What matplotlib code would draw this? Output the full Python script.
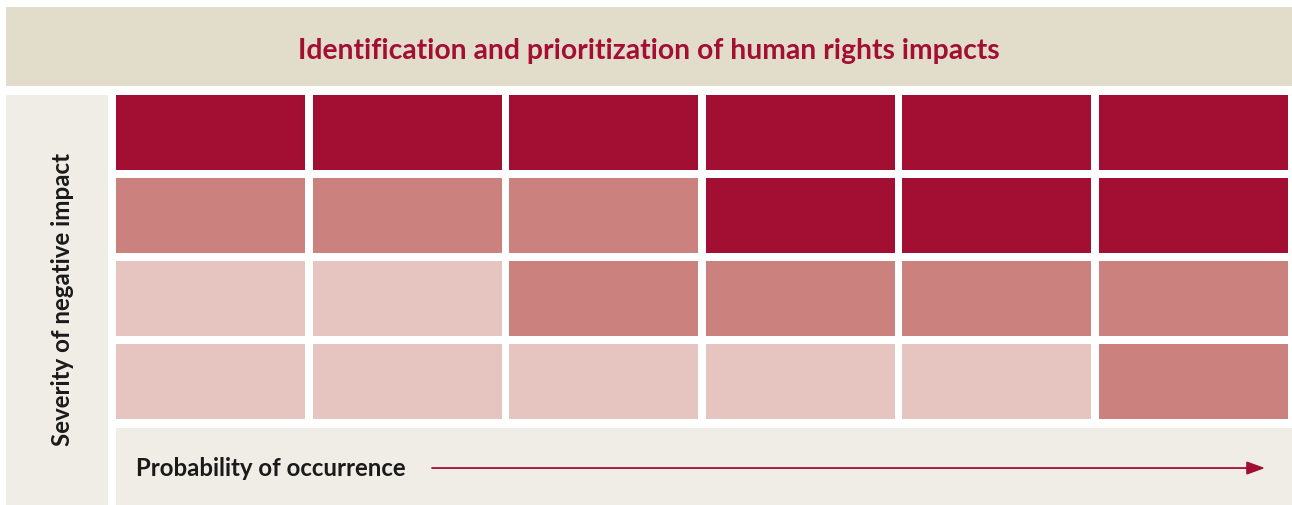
import matplotlib.pyplot as plt
import numpy as np

# severity rows (top = most severe) x probability columns, level 1..3
levels = [
    [3, 3, 3, 3, 3, 3],
    [2, 2, 2, 3, 3, 3],
    [1, 1, 2, 2, 2, 2],
    [1, 1, 1, 1, 1, 2],
]
level_colors = {1: '#e6c5c0', 2: '#cb827f', 3: '#a30e33'}
title = 'Identification and prioritization of human rights impacts'
ylabel = 'Severity of negative impact'
xlabel = 'Probability of occurrence'

W, H = 1292, 505
plt.rcParams['font.family'] = ['Lato', 'DejaVu Sans']
fig = plt.figure(figsize=(W / 100, H / 100), dpi=100)


def px_axes(x0, y0, x1, y1):
    ax = fig.add_axes([x0 / W, 1 - y1 / H, (x1 - x0) / W, (y1 - y0) / H])
    ax.set_axis_off()
    return ax


def fit(txt, target, vertical=False):
    # scale font size so the text spans the target length in pixels
    r = fig.canvas.get_renderer()
    bb = txt.get_window_extent(renderer=r)
    size = bb.height if vertical else bb.width
    txt.set_fontsize(txt.get_fontsize() * target / size)


# title band
ax_t = px_axes(6, 7, 1292, 86)
ax_t.add_patch(plt.Rectangle((0, 0), 1, 1, transform=ax_t.transAxes, color='#e2dccb'))
t_title = ax_t.text(0.5, 0.44, title, ha='center', va='center', color='#a30e33',
                    fontsize=16, fontweight='bold', transform=ax_t.transAxes)

# left band
ax_l = px_axes(6, 95, 108, 505)
ax_l.add_patch(plt.Rectangle((0, 0), 1, 1, transform=ax_l.transAxes, color='#f0ede6'))
t_y = ax_l.text(0.55, 0.5 + (300 - 299.5) / 410, ylabel, ha='center', va='center',
                rotation=90, color='#1a1a1a', fontsize=15, fontweight='bold',
                transform=ax_l.transAxes)

# bottom band
ax_b = px_axes(116, 428, 1292, 505)
ax_b.add_patch(plt.Rectangle((0, 0), 1, 1, transform=ax_b.transAxes, color='#f0ede6'))
t_x = ax_b.text(20 / 1176, 0.47, xlabel, ha='left', va='center', color='#1a1a1a',
                fontsize=15, fontweight='bold', transform=ax_b.transAxes)
ax_b.annotate('', xy=(1149 / 1176, 0.48), xytext=(316 / 1176, 0.48),
              xycoords='axes fraction',
              arrowprops=dict(arrowstyle='-|>,head_length=1.1,head_width=0.4',
                              color='#a30e33', lw=1.3, shrinkA=0, shrinkB=0))

# risk matrix
nrows, ncols = len(levels), len(levels[0])
pitch_x, pitch_y = 196.5, 83
ax = px_axes(116, 95, 116 + ncols * pitch_x, 95 + nrows * pitch_y)
ax.set_xlim(0, ncols)
ax.set_ylim(nrows, 0)
for r, row in enumerate(levels):
    cols = np.arange(ncols)
    ax.bar(cols, [75 / pitch_y] * ncols, width=189 / pitch_x, bottom=r,
           align='edge', color=[level_colors[v] for v in row], linewidth=0)

fig.canvas.draw()
fit(t_title, 703)
fit(t_y, 295, vertical=True)
fit(t_x, 271)

fig.savefig('out.png', dpi=100)
